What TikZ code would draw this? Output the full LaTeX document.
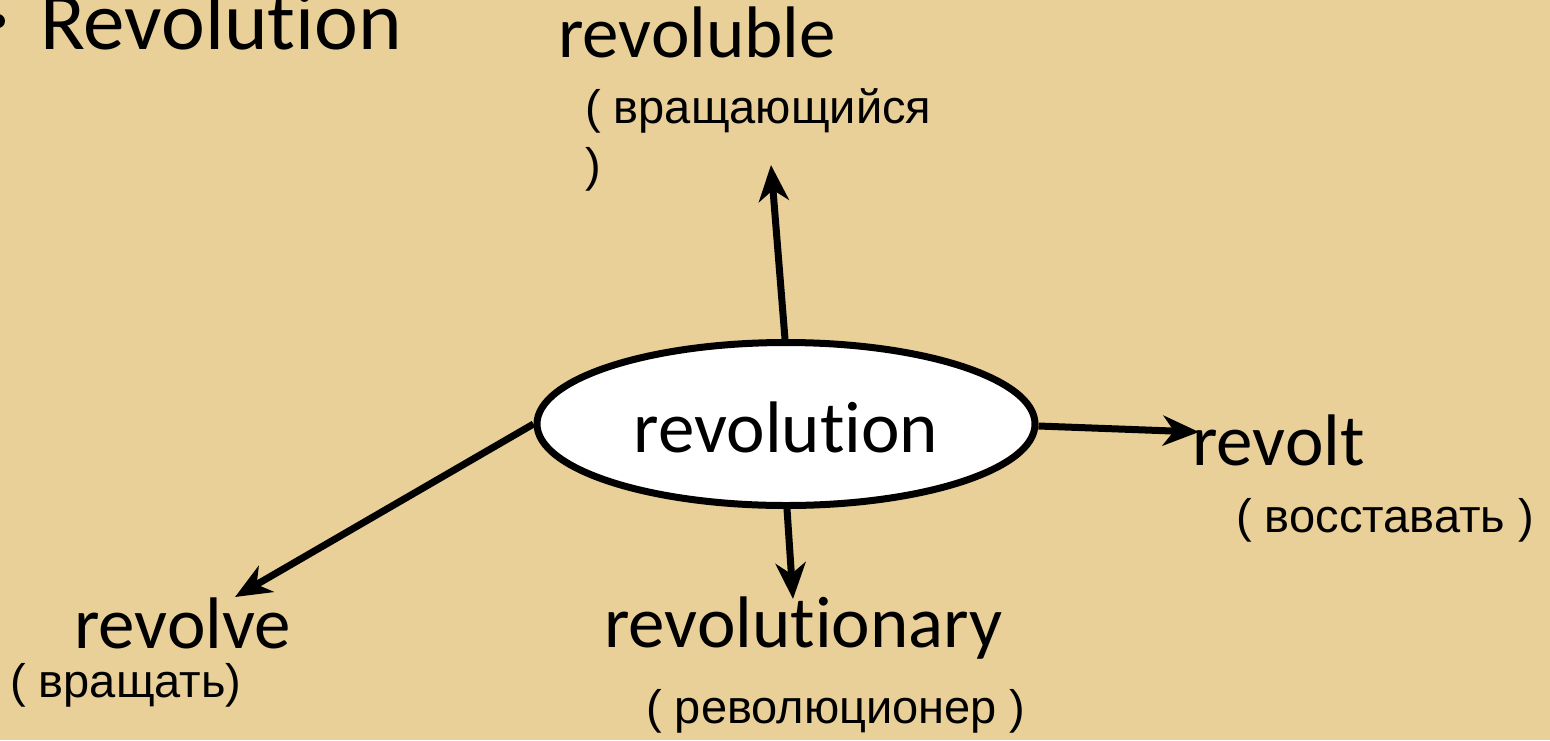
\documentclass[tikz,border=0pt]{standalone}
\usepackage{fontspec}
\setmainfont{Carlito}[Ligatures=NoCommon]
\newfontfamily\ruf{Liberation Sans}
\usetikzlibrary{arrows.meta,shapes.geometric}
\definecolor{papyrus}{RGB}{233,207,152}
\tikzset{
  word/.style={font=\fontsize{73}{73}\selectfont, anchor=base west, inner sep=0pt, text=black},
  gloss/.style={font=\ruf\fontsize{47}{58}\selectfont, anchor=base west, inner sep=0pt, text=black},
  conn/.style={line width=7pt, draw=black, -{Stealth[length=36pt,width=30pt,inset=11pt]}}
}
\begin{document}
\begin{tikzpicture}[x=1pt,y=-1pt]
\useasboundingbox (0,0) rectangle (1550,740);
\fill[papyrus] (0,0) rectangle (1550,740);
\begin{scope}
\clip (0,0) rectangle (1550,740);
\node[circle, fill=black, minimum size=14pt, inner sep=0pt] (bul) at (-2,21) {};
\node[word, font=\fontsize{83}{83}\selectfont] (title) at (40,49) {Revolution};
\end{scope}
\node[ellipse, draw=black, line width=7pt, fill=white, minimum width=498pt, minimum height=163pt, inner sep=0pt] (c) at (786,424) {};
\node[word, anchor=base] (cl) at (786,452) {revolution};
\node[word] (up) at (558,57) {revoluble};
\node[gloss] (upg) at (585,123) {( вращающийся};
\node[gloss] (upg2) at (585,181) {)};
\node[word] (rt) at (1192,465) {revolt};
\node[gloss] (rtg) at (1236,532) {( восставать~)};
\node[word] (dn) at (604,647) {revolutionary};
\node[gloss] (dng) at (646,723) {( революционер )};
\node[word] (lf) at (74,648) {revolve};
\node[gloss] (lfg) at (10,697) {( вращать)};
\coordinate (upt) at (771,165);
\coordinate (rtt) at (1199,432);
\coordinate (dnt) at (793,599);
\coordinate (lft) at (235,597);
\draw[conn] (c.north) ++(-1,0) -- (upt);
\draw[conn] (c.east) ++(0,2) -- (rtt);
\draw[conn] (c.south) ++(1,0) -- (dnt);
\draw[conn] (c.west) -- (lft);
\end{tikzpicture}
\end{document}
